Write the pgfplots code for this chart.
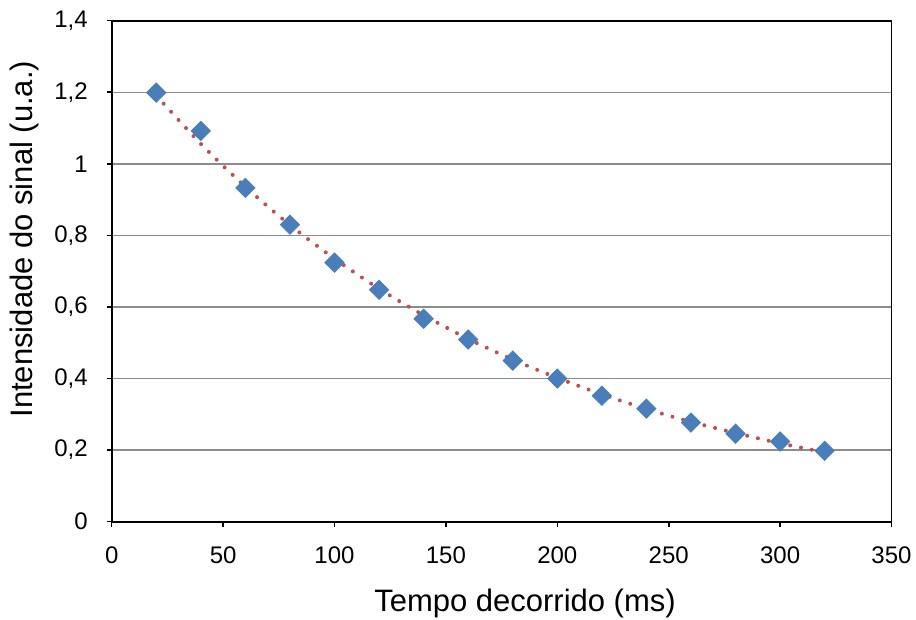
\documentclass[border=0pt]{standalone}
\usepackage{fontspec}
\setmainfont{Liberation Sans}
\usepackage{pgfplots}
\pgfplotsset{compat=1.18}

\definecolor{markblue}{HTML}{4A7EBB}
\definecolor{trendred}{HTML}{C0504D}
\definecolor{gridgray}{HTML}{8C8C8C}

\begin{document}
\begin{tikzpicture}
\useasboundingbox (-55.85pt,-49.15pt) rectangle (402.15pt,260.85pt);
\begin{axis}[
    at={(0,0)}, anchor=south west,
    scale only axis,
    width=389.9pt, height=250.5pt,
    xmin=0, xmax=350,
    ymin=0, ymax=1.4,
    xtick={0,50,...,350},
    ytick={0,0.2,...,1.4},
    tick pos=left,
    tick align=outside,
    major tick length=2.5pt,
    tick style={black, line width=0.8pt},
    axis line style={black, line width=0.9pt},
    ymajorgrids=true,
    grid style={gridgray, line width=0.7pt},
    /pgf/number format/assume math mode=true,
    ticklabel style={font=\fontsize{12}{14}\selectfont},
    xticklabel style={yshift=-6.5pt, /pgf/number format/fixed},
    yticklabel style={xshift=-6pt, /pgf/number format/use comma,
        /pgf/number format/fixed, /pgf/number format/precision=1},
    xlabel={Tempo decorrido (ms)},
    ylabel={Intensidade do sinal (u.a.)},
    label style={font=\fontsize{15.5}{18}\selectfont},
    xlabel style={at={(axis description cs:0.530,0)}, anchor=base, yshift=-45.15pt},
    ylabel style={at={(axis description cs:-0.1116,0.564)}, anchor=center},
]
% trend line (exponential fit)
\addplot[trendred, line width=2pt, line cap=round, dash pattern=on 0.01pt off 5.5pt, smooth]
coordinates {
(20,1.191) (40,1.056) (60,0.936) (80,0.829) (100,0.735) (120,0.651)
(140,0.577) (160,0.511) (180,0.453) (200,0.402) (220,0.356) (240,0.315)
(260,0.279) (280,0.248) (300,0.219) (320,0.194)
};
% measured points
\addplot[only marks, mark=square*, mark size=3.4pt,
    mark options={rotate=45, fill=markblue, draw=markblue}]
coordinates {
(20,1.199) (40,1.092) (60,0.933) (80,0.830) (100,0.724) (120,0.648)
(140,0.567) (160,0.509) (180,0.450) (200,0.400) (220,0.352) (240,0.316)
(260,0.277) (280,0.246) (300,0.224) (320,0.198)
};
\end{axis}
\end{tikzpicture}
\end{document}
